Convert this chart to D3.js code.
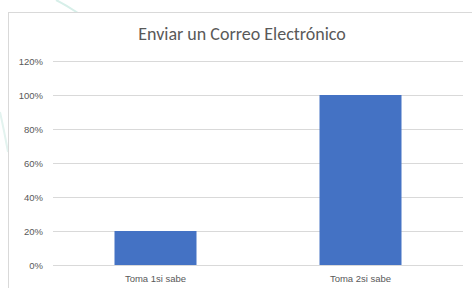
<!DOCTYPE html>
<html>
<head>
<meta charset="utf-8">
<script src="https://cdn.jsdelivr.net/npm/d3@7"></script>
<style>
  html, body { margin: 0; padding: 0; background: #fff; }
  svg { display: block; font-family: Calibri, Carlito, "Liberation Sans", "Open Sans", sans-serif; }
</style>
</head>
<body>
<svg id="chart" width="472" height="288"></svg>
<script>
// data
const categories = ['Toma 1si sabe', 'Toma 2si sabe'];
const values = [0.20, 1.00];
const yTicks = [0, 0.2, 0.4, 0.6, 0.8, 1.0, 1.2];
const title = 'Enviar un Correo Electrónico';

const svg = d3.select('#chart');
const W = 472, H = 288;

// faint background decoration (slide watermark)
svg.append('path')
  .attr('d', 'M56,0 Q66,5 78,13')
  .attr('fill', 'none').attr('stroke', '#d7efe9').attr('stroke-width', 2);
svg.append('path')
  .attr('d', 'M0,112 Q4,130 8,152')
  .attr('fill', 'none').attr('stroke', '#e3f3ef').attr('stroke-width', 2);

// chart area frame
svg.append('rect')
  .attr('x', 8.5).attr('y', 12.5)
  .attr('width', W + 10).attr('height', H + 10)
  .attr('fill', '#fff')
  .attr('stroke', '#d9d9d9').attr('stroke-width', 1);

const plot = { left: 53, right: 463, top: 61, bottom: 265 };

const x = d3.scaleBand()
  .domain(categories)
  .range([plot.left, plot.right])
  .paddingInner(0.6)
  .paddingOuter(0.3);

const y = d3.scaleLinear()
  .domain([0, 1.2])
  .range([plot.bottom, plot.top]);

// gridlines
svg.append('g')
  .selectAll('line').data(yTicks).join('line')
  .attr('x1', plot.left).attr('x2', plot.right)
  .attr('y1', d => Math.round(y(d)) + 0.5).attr('y2', d => Math.round(y(d)) + 0.5)
  .attr('stroke', '#d9d9d9').attr('stroke-width', 1);

// y axis labels
const yAxis = d3.axisLeft(y).tickValues(yTicks).tickFormat(d3.format('.0%')).tickSize(0).tickPadding(10);
svg.append('g')
  .attr('transform', `translate(${plot.left},0)`)
  .call(yAxis)
  .call(g => g.select('.domain').remove())
  .call(g => g.selectAll('text').attr('fill', '#595959').attr('font-size', 9.5).style('font-family', 'inherit'));

// bars
svg.append('g')
  .selectAll('rect').data(values).join('rect')
  .attr('x', (d, i) => x(categories[i]))
  .attr('y', d => y(d))
  .attr('width', x.bandwidth())
  .attr('height', d => plot.bottom - y(d))
  .attr('fill', '#4472c4');

// baseline
svg.append('line')
  .attr('x1', plot.left).attr('x2', plot.right)
  .attr('y1', plot.bottom + 0.5).attr('y2', plot.bottom + 0.5)
  .attr('stroke', '#d9d9d9');

// x axis labels
const xAxis = d3.axisBottom(x).tickSize(0).tickPadding(10);
svg.append('g')
  .attr('transform', `translate(0,${plot.bottom})`)
  .call(xAxis)
  .call(g => g.select('.domain').remove())
  .call(g => g.selectAll('text').attr('fill', '#595959').attr('font-size', 9.5).style('font-family', 'inherit'));

// title
svg.append('text')
  .attr('x', 242).attr('y', 40)
  .attr('text-anchor', 'middle')
  .attr('fill', '#595959')
  .attr('font-size', 18)
  .text(title);
</script>
</body>
</html>
